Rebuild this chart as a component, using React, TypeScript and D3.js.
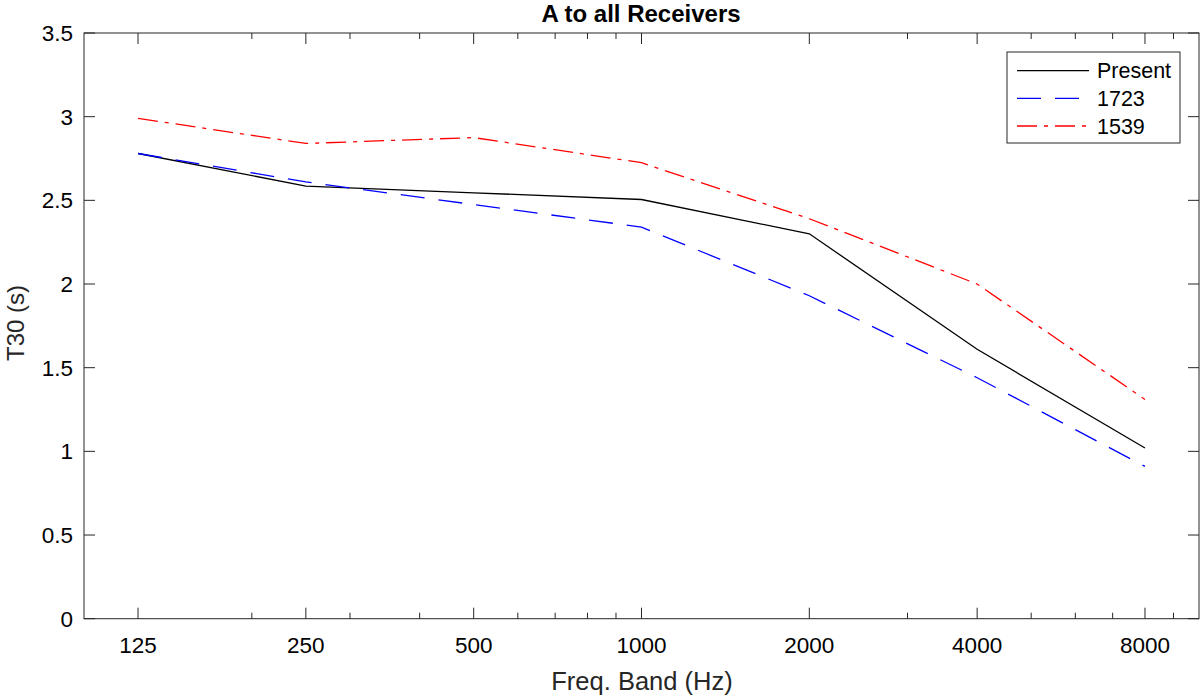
import * as d3 from 'd3'

const freqs = [125, 250, 500, 1000, 2000, 4000, 8000]
const present = [2.78, 2.585, 2.545, 2.505, 2.3, 1.61, 1.02]
const s1723 = [2.78, 2.61, 2.475, 2.34, 1.93, 1.44, 0.91]
const s1539 = [2.99, 2.84, 2.875, 2.725, 2.39, 2.0, 1.31]
const yTicks = [0, 0.5, 1, 1.5, 2, 2.5, 3, 3.5]

const series = [
  { name: 'Present', values: present, color: '#000000', dash: 'none' },
  { name: '1723', values: s1723, color: '#0000ff', dash: '24 14' },
  { name: '1539', values: s1539, color: '#ff0000', dash: '20 7 4 7' },
]

const W = 1200
const H = 699
const left = 84
const right = 1199
const top = 33
const bottom = 618.7
const font = '"Liberation Sans", Arial, Helvetica, sans-serif'
const axisColor = '#262626'

export default function App() {
  const x = d3.scaleLog().domain([100, 10000]).range([left, right])
  const y = d3.scaleLinear().domain([0, 3.5]).range([bottom, top])

  // minor ticks: every integer multiple inside each decade, skipping labelled ones
  const minor: number[] = []
  for (const dec of [100, 1000]) {
    for (let k = 2; k <= 9; k++) {
      const v = k * dec
      if (!freqs.includes(v)) minor.push(v)
    }
  }

  const line = d3.line<number>()
    .x((_, i) => x(freqs[i]))
    .y(d => y(d))

  const legX = 1007
  const legY = 52
  const rowY = [70.7, 98.3, 126]

  return (
    <div style={{ position: 'absolute', left: 0, top: 0 }}>
      <svg width={W} height={H} style={{ display: 'block', background: '#fff' }} fontFamily={font}>
        <text x={641} y={22} textAnchor="middle" fontSize={24} fontWeight="bold" fill="#000">
          A to all Receivers
        </text>

        {/* series */}
        {series.map(s => (
          <path key={s.name} d={line(s.values) ?? ''} fill="none" stroke={s.color}
            strokeWidth={1.3} strokeDasharray={s.dash} />
        ))}

        {/* box */}
        <rect x={left} y={top} width={right - left} height={bottom - top} fill="none" stroke={axisColor} strokeWidth={1} />

        {/* x ticks */}
        {freqs.map(f => (
          <g key={'xt' + f}>
            <line x1={x(f)} x2={x(f)} y1={bottom} y2={bottom - 11} stroke={axisColor} />
            <line x1={x(f)} x2={x(f)} y1={top} y2={top + 11} stroke={axisColor} />
            <text x={x(f)} y={653} textAnchor="middle" fontSize={22.5} fill="#000">{f}</text>
          </g>
        ))}
        {minor.map(f => (
          <g key={'xm' + f}>
            <line x1={x(f)} x2={x(f)} y1={bottom} y2={bottom - 6} stroke={axisColor} />
            <line x1={x(f)} x2={x(f)} y1={top} y2={top + 6} stroke={axisColor} />
          </g>
        ))}

        {/* y ticks */}
        {yTicks.map(t => (
          <g key={'yt' + t}>
            <line x1={left} x2={left + 11} y1={y(t)} y2={y(t)} stroke={axisColor} />
            <line x1={right} x2={right - 11} y1={y(t)} y2={y(t)} stroke={axisColor} />
            <text x={73} y={y(t)} dy="0.35em" textAnchor="end" fontSize={22.5} fill="#000">{t}</text>
          </g>
        ))}

        <text x={642} y={690} textAnchor="middle" fontSize={25.5} fill="#262626">Freq. Band (Hz)</text>
        <text transform={`translate(24,323) rotate(-90)`} textAnchor="middle" fontSize={24} fill="#262626">T30 (s)</text>

        {/* legend */}
        <rect x={legX} y={legY} width={173} height={91} fill="#fff" stroke={axisColor} strokeWidth={1} />
        {series.map((s, i) => (
          <g key={'lg' + s.name}>
            <line x1={1017} x2={1089} y1={rowY[i]} y2={rowY[i]} stroke={s.color} strokeWidth={1.3} strokeDasharray={s.dash} />
            <text x={1097} y={rowY[i]} dy="0.35em" fontSize={21.5} fill="#000">{s.name}</text>
          </g>
        ))}
      </svg>
    </div>
  )
}
